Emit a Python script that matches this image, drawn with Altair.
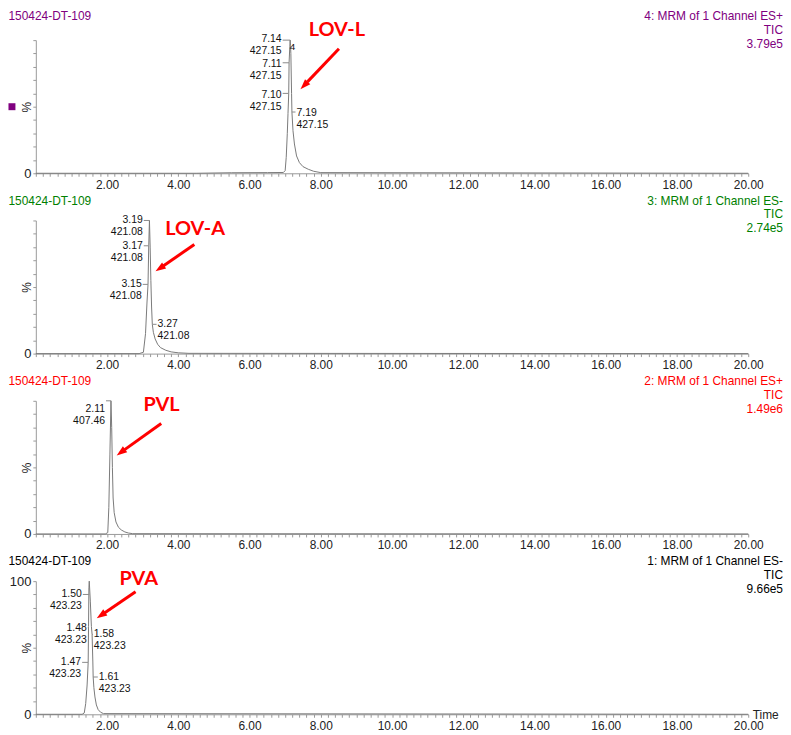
import altair as alt
import pandas as pd

FONT = "Liberation Sans"
TITLE_FONT = "Lato"

# ---------------- data ----------------
SAMPLE_NAME = "150424-DT-109"
CHANNEL_LABELS = ["4: MRM of 1 Channel ES+", "3: MRM of 1 Channel ES-",
                  "2: MRM of 1 Channel ES+", "1: MRM of 1 Channel ES-"]
TRACE_KIND = "TIC"
MAX_INTENSITY = ["3.79e5", "2.74e5", "1.49e6", "9.66e5"]
PANEL_COLORS = ["#800080", "#008000", "#ff0000", "#000000"]
COMPOUND_NAMES = ["LOV-L", "LOV-A", "PVL", "PVA"]

X_LABELED = [2, 4, 6, 8, 10, 12, 14, 16, 18, 20]
X_MINOR_TICKS = [round(i * 0.2, 1) for i in range(101)]
Y_TICKS = [0, 10, 20, 30, 40, 50, 60, 70, 80, 90, 100]

# chromatogram traces (time in min, relative intensity in %)
LOVL_TIME = [0, 4.5, 5.5, 6.5, 6.95, 7.00, 7.03, 7.06, 7.08, 7.10, 7.11, 7.13, 7.14, 7.15,
             7.16, 7.18, 7.19, 7.22, 7.26, 7.32, 7.40, 7.50, 7.65, 7.80, 8.00, 20]
LOVL_PCT = [0, 0, 0.4, 0.5, 0.6, 2, 12, 30, 45, 60, 83, 95, 100, 96,
            90, 60, 46, 32, 22, 13, 8, 5, 3, 1.5, 0.5, 0]

LOVA_TIME = [0, 2.9, 3.02, 3.08, 3.12, 3.15, 3.17, 3.19, 3.21, 3.23, 3.25, 3.27, 3.30,
             3.35, 3.42, 3.50, 3.65, 3.80, 4.00, 4.30, 20]
LOVA_PCT = [0, 0, 1, 15, 38, 52, 81, 100, 80, 55, 35, 22, 16,
            11, 7, 4.5, 2.5, 1.3, 0.6, 0.2, 0]

PVL_TIME = [0, 1.95, 2.02, 2.05, 2.08, 2.11, 2.13, 2.15, 2.17, 2.20, 2.25, 2.32, 2.40,
            2.50, 2.60, 2.72, 20]
PVL_PCT = [0, 0, 1, 20, 60, 100, 80, 50, 27, 16, 9, 5, 3,
           1.5, 0.7, 0.2, 0]

PVA_TIME = [0, 1.30, 1.36, 1.40, 1.44, 1.47, 1.48, 1.49, 1.50, 1.53, 1.56, 1.58, 1.60,
            1.61, 1.63, 1.66, 1.70, 1.75, 1.82, 1.90, 20]
PVA_PCT = [0, 0, 1, 8, 22, 39, 66, 95, 100, 85, 66, 60, 40,
           28, 20, 13, 7, 3.5, 1.5, 0.5, 0]

# peak annotations: retention time, m/z, label anchor time, label centre %, connector %, side
LOVL_RT = ["7.14", "7.11", "7.10", "7.19"]
LOVL_MZ = ["427.15", "427.15", "427.15", "427.15"]
LOVL_LABEL_T = [6.93, 6.93, 6.93, 7.29]
LOVL_LABEL_P = [100.5, 82, 59, 45]
LOVL_CONN_P = [100, 83, 60, 46]
LOVL_SIDE = ["left", "left", "left", "right"]

LOVA_RT = ["3.19", "3.17", "3.15", "3.27"]
LOVA_MZ = ["421.08", "421.08", "421.08", "421.08"]
LOVA_LABEL_T = [3.03, 3.03, 3.00, 3.39]
LOVA_LABEL_P = [100, 81, 52, 22]
LOVA_CONN_P = [100, 81, 52, 22]
LOVA_SIDE = ["left", "left", "left", "right"]

PVL_RT = ["2.11"]
PVL_MZ = ["407.46"]
PVL_LABEL_T = [1.97]
PVL_LABEL_P = [94]
PVL_CONN_P = [100]
PVL_SIDE = ["left"]

PVA_RT = ["1.50", "1.48", "1.58", "1.47", "1.61"]
PVA_MZ = ["423.23", "423.23", "423.23", "423.23", "423.23"]
PVA_LABEL_T = [1.32, 1.46, 1.60, 1.30, 1.74]
PVA_LABEL_P = [90, 65, 60, 39, 28]
PVA_CONN_P = [90, 65, 60, 39, 28]
PVA_SIDE = ["left", "left", "right", "left", "right"]

# truncated label fragment next to the LOV-L apex
FRAGMENT_T = [7.13]
FRAGMENT_P = [95]
FRAGMENT_TXT = ["4"]

# red call-out arrows and compound names
ARROW_FROM_T = [8.51, 4.45, 3.52, 2.80]
ARROW_FROM_P = [93.5, 81.9, 83.0, 92.0]
ARROW_TO_T = [7.43, 3.36, 2.27, 1.71]
ARROW_TO_P = [63.2, 61.9, 59.0, 72.2]
ARROW_ANGLE = [224, 236, 234, 236]
NAME_T = [8.45, 4.47, 3.53, 2.89]
NAME_P = [107.8, 93.7, 96.9, 101.6]

# selected-trace marker (panel 1)
MARKER_T = [-0.67]
MARKER_P = [50]

TRACES = [(LOVL_TIME, LOVL_PCT), (LOVA_TIME, LOVA_PCT), (PVL_TIME, PVL_PCT), (PVA_TIME, PVA_PCT)]
ANNOTS = [
    (LOVL_RT, LOVL_MZ, LOVL_LABEL_T, LOVL_LABEL_P, LOVL_CONN_P, LOVL_SIDE),
    (LOVA_RT, LOVA_MZ, LOVA_LABEL_T, LOVA_LABEL_P, LOVA_CONN_P, LOVA_SIDE),
    (PVL_RT, PVL_MZ, PVL_LABEL_T, PVL_LABEL_P, PVL_CONN_P, PVL_SIDE),
    (PVA_RT, PVA_MZ, PVA_LABEL_T, PVA_LABEL_P, PVA_CONN_P, PVA_SIDE),
]

W, H = 717, 134
RED = "#ff0000"
ARROW_PATH = "M0,0L-0.6,1.7L0.6,1.7Z"

XS = alt.Scale(domain=[0, 20], nice=False, zero=False)
YS = alt.Scale(domain=[0, 100], nice=False, zero=False)


def x_axis(last):
    kw = dict(values=X_MINOR_TICKS,
              labelExpr="datum.value > 0.01 && abs(datum.value - 2*round(datum.value/2)) < 0.01 ? format(datum.value, '.2f') : ''",
              labelOverlap=False, labelFlush=False, grid=False, tickSize=3, labelPadding=3,
              domainColor="#999999", tickColor="#999999", labelColor="#222222",
              labelFont=FONT, labelFontSize=12)
    if last:
        kw.update(title="Time", titleX=721, titleY=0, titleAlign="left", titleBaseline="middle",
                  titleAngle=0, titleFont=FONT, titleFontSize=12, titleFontWeight="normal",
                  titleColor="#222222")
    else:
        kw.update(title=None)
    return alt.Axis(**kw)


def y_axis(last):
    expr = "datum.value == 0 || datum.value == 100 ? datum.label : ''" if last else "datum.value == 0 ? datum.label : ''"
    return alt.Axis(values=Y_TICKS, labelExpr=expr, labelFlush=False, labelOverlap=False, grid=False,
                    tickSize=3, labelPadding=2, domainColor="#999999", tickColor="#999999",
                    labelColor="#222222", labelFont=FONT, labelFontSize=13,
                    title="%", titleAngle=270, titleX=-9, titleY=H / 2, titleAlign="center",
                    titleBaseline="middle", titleFont=FONT, titleFontSize=12,
                    titleFontWeight="normal", titleColor="#222222")


def panel(i):
    last = i == 3
    color = PANEL_COLORS[i]
    XA = x_axis(last)
    YA = y_axis(last)

    def X(f):
        return alt.X(f, scale=XS, axis=XA)

    def Y(f):
        return alt.Y(f, scale=YS, axis=YA)

    t, p = TRACES[i]
    trace_df = pd.DataFrame({"t": t, "p": p})
    trace = alt.Chart(trace_df).mark_line(color="#7a7a7a", strokeWidth=1).encode(
        x=X("t:Q"), y=Y("p:Q"))

    rt, mz, lt, lp, cp, side = ANNOTS[i]
    ann = pd.DataFrame({
        "rt": [float(v) for v in rt],
        "txt": [a + "\n" + b for a, b in zip(rt, mz)],
        "lt": lt, "lp": lp, "cp": cp, "side": side,
    })
    conn = alt.Chart(ann).mark_rule(color="#8a8a8a", strokeWidth=1).encode(
        x=X("lt:Q"), x2="rt:Q", y=Y("cp:Q"))
    tl = alt.Chart(ann).transform_filter(alt.datum.side == "left").mark_text(
        align="right", baseline="middle", dx=-1, lineBreak="\n", lineHeight=12,
        font=FONT, fontSize=10.5, color="#111111").encode(
        x=X("lt:Q"), y=Y("lp:Q"), text="txt:N")
    tr = alt.Chart(ann).transform_filter(alt.datum.side == "right").mark_text(
        align="left", baseline="middle", dx=1, lineBreak="\n", lineHeight=12,
        font=FONT, fontSize=10.5, color="#111111").encode(
        x=X("lt:Q"), y=Y("lp:Q"), text="txt:N")

    f = ARROW_FROM_T[i], ARROW_FROM_P[i]
    to = ARROW_TO_T[i], ARROW_TO_P[i]
    arr = pd.DataFrame({
        "ft": [f[0]], "fp": [f[1]], "tt": [to[0]], "tp": [to[1]],
        "lt2": [f[0] + 0.82 * (to[0] - f[0])], "lp2": [f[1] + 0.82 * (to[1] - f[1])],
        "ang": [ARROW_ANGLE[i]], "nt": [NAME_T[i]], "np": [NAME_P[i]], "name": [COMPOUND_NAMES[i]],
    })
    shaft = alt.Chart(arr).mark_rule(color=RED, strokeWidth=3).encode(
        x=X("ft:Q"), y=Y("fp:Q"), x2="lt2:Q", y2="lp2:Q")
    head = alt.Chart(arr).mark_point(shape=ARROW_PATH, filled=True, size=150, color=RED, opacity=1).encode(
        x=X("tt:Q"), y=Y("tp:Q"), angle=alt.Angle("ang:Q", scale=None))
    name = alt.Chart(arr).mark_text(font=TITLE_FONT, fontWeight="bold", fontSize=20, color=RED,
                                    align="center", baseline="middle").encode(
        x=X("nt:Q"), y=Y("np:Q"), text="name:N")

    hy = -29 if i == 0 else -25
    hdr = pd.DataFrame({"left": [SAMPLE_NAME],
                        "right": [CHANNEL_LABELS[i] + "\n" + TRACE_KIND + "\n" + MAX_INTENSITY[i]]})
    lh = alt.Chart(hdr).mark_text(align="left", baseline="top", font=FONT, fontSize=12, color=color).encode(
        x=alt.value(-27.5), y=alt.value(hy), text="left:N")
    rh = alt.Chart(hdr).mark_text(align="right", baseline="top", font=FONT, fontSize=12, color=color,
                                  lineBreak="\n", lineHeight=14).encode(
        x=alt.value(752), y=alt.value(hy), text="right:N")

    layers = [trace, conn, tl, tr, shaft, head, name, lh, rh]

    if i == 0:
        frag = pd.DataFrame({"t": FRAGMENT_T, "p": FRAGMENT_P, "txt": FRAGMENT_TXT})
        layers.append(alt.Chart(frag).mark_text(align="left", baseline="middle", font=FONT, fontSize=10,
                                                color="#111111").encode(
            x=X("t:Q"), y=Y("p:Q"), text="txt:N"))
        mk = pd.DataFrame({"t": MARKER_T, "p": MARKER_P})
        layers.append(alt.Chart(mk).mark_point(shape="square", filled=True, size=49, color=color, opacity=1).encode(
            x=X("t:Q"), y=Y("p:Q")))

    return alt.layer(*layers).properties(width=W, height=H)


chart = alt.vconcat(*[panel(i) for i in range(4)], spacing=47.5, bounds="flush").properties(
    padding=0, background="white"
).configure_view(strokeWidth=0, stroke="transparent")

chart.save("out.html", embed_options={"renderer": "svg", "actions": False})
